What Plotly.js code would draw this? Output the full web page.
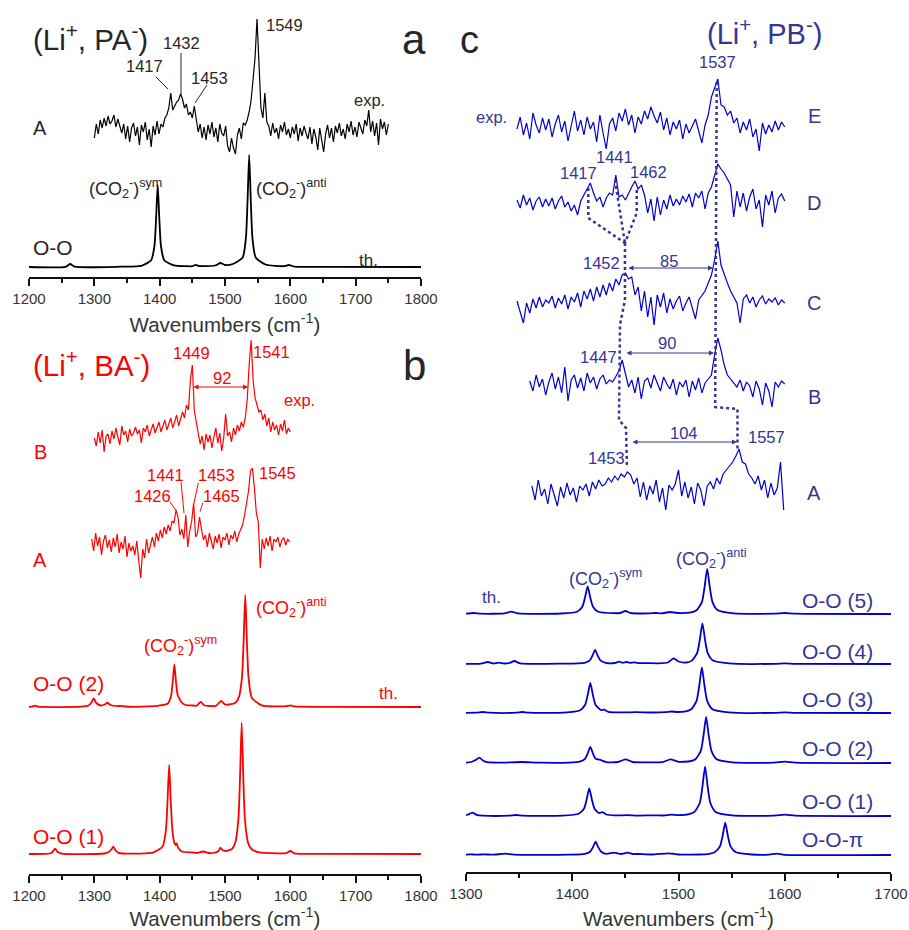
<!DOCTYPE html>
<html><head><meta charset="utf-8">
<script src="https://cdn.plot.ly/plotly-3.0.1.min.js"></script>
<style>html,body{margin:0;padding:0;background:#fff}#plot{width:909px;height:930px}</style>
</head><body><div id="plot"></div>
<script>
// ---------------- DATA (intensities in arbitrary units, baseline = 0) ----------------
// Panel a: (Li+, PA-)  experimental A, sampled from 1300 cm-1 every 3 cm-1
const paExpStart = 1300, paExpStep = 3;
const paExpA = [-8,6,-4,10,2,12,4,14,6,9,15,3,11,5,
 -3,6,-9,4,-12,2,7,-6,3,-15,5,-2,8,-10,1,-17,4,-5,9,-4,
 6,3,12,15, 22,37,20, 24,28,30, 36,31, 22,26,15,18,12, 24, 8,-2,6,-8,
 3,-10,5,-4,8,-7,2,-12,6,-3,-6,4,-16,-22,-8,-18,-24,-5,2,-9,7,5,
 10,18,30,55, 72,111,68,22,12,37,8,
 4,-6,7,-3,2,-9,5,-2,8,-5, 1,-8,3,-4,6,-11,2,-6,4,-3,
 -9,3,-14,1,-7,-20,2,-10,-22,-4, 5,-8,2,-12,4,-3,7,-6,1,-9,
 6,-2,9,-5,3,-7,8,2,-4,10, 4,20,-2,9,-6,7,-15,11,1,8,-5,6];
// Panel a: theoretical O-O
const paThX = [1200,1256,1263,1270,1340,1372,1387,1392,1394.5,1397,1399.5,1402,1407,1422,1440,1450,1455,1460,1485,1493,1500,1512,1527,1532,1534.5,1537,1539.5,1542,1547,1562,1590,1598,1606,1650,1800];
const paThY = [0,0.2,3,0.3,0.3,1.2,6.8,21,48,82,48,21,6.8,1.6,0.8,0.8,2.2,1,1.5,4,2,3,9.5,29,66,112,66,29,9.5,2.5,0.8,2,0.4,0.2,0];

// Panel b: (Li+, BA-)  experimental B (from 1300) and A (from 1296), every 3 cm-1
const pbExpBStart = 1300, pbExpAStart = 1296, pbExpStep = 3;
const pbExpB = [2,-6,8,-3,10,-12,4,6,-4,9,1, 12,3,-5,14,5,9,-2,11,4,7,13,
 6,10,-3,12,8,15,4,9,16,7, 12,18,8,14,20,10,17, 22,12,19,25,14,21, 28,22,35,30,
 60,75,30, 18,8,-4,4,-10,6,-2, 5,-8,3,12,-3,7,-11,2,26,4, 8,-2,12,5,15,9,18,13,22,
 40,75,100, 60,42,35,28,30, 20,26,14,22,8,18,10,15,5,16,9,20,6,12,8];
const pbExpA = [4,-8,10,-3,6,-12,2,8,-5,3,-9, 5,-4,9,-10,1,-6,7,-14,0,-8,-3,
 -12,2,-18,-35,-6,-15,4,-10,-2, 6,-4,10,2,13,5,16,9, 18,12,22,20,33,26, 8,14,4,28,
 -4,12,22,40, 6,10,26,14,3, 8,-4,10,2,-6,7,0,9,-5,6,3, 10,-2,8,4,12,1,9,14,18,
 28,40,52,72,75,55, 30,21,-25,4, -6,5,-3,7,-8,4,1,6,-4,3,5,-2,4,1];
// Panel b: theoretical O-O (2) and O-O (1)
const pbTh2X = [1200,1204,1209,1214,1280,1291,1295,1299,1303,1310,1316,1320,1324,1335,1341,1347,1385,1397,1412.5,1417.5,1420,1422.5,1425,1427.5,1430,1433,1440,1451,1456,1463,1468,1486,1494,1500,1506,1516,1521,1526,1528.5,1531,1533.5,1536,1541,1556,1580,1594,1600,1606,1660,1800];
const pbTh2Y = [0,0.3,1.3,0.3,0.3,1.5,4,8.7,4,1.5,2.5,4.3,2.2,0.8,1.2,0.5,0.6,1.2,3.5,11.3,25,42.7,25,12,8.7,5,2,1.5,1.2,5,1.8,1.2,6,2.5,2.5,4.3,9.3,29.7,66,112,66,29.7,9.3,1.6,0.6,0.8,1.7,0.6,0.2,0];
const pbTh1X = [1200,1232,1236,1240,1244,1250,1315,1322,1326,1329,1332,1337,1370,1389.5,1404.5,1409.5,1412,1414.5,1417,1419.5,1422,1424,1426,1428.5,1434,1451,1456,1467,1475,1485,1490,1493,1496,1500.5,1510.5,1515.5,1520.5,1523,1525.5,1528,1530.5,1535.5,1540.5,1550.5,1580,1594,1600,1606,1660,1800];
const pbTh1Y = [0,0.5,2,5.3,2,0.4,0.5,2,4.5,7.3,4,1.2,0.4,1.3,7.4,23.6,52.5,89,52.5,23.6,12.3,9,10.5,6,2.5,1.5,1,2.5,1,1.5,3,6.3,4,3,5,10.9,34.7,77.3,131,77.3,34.7,10.9,5,1.9,0.6,0.8,3,0.7,0.2,0];

// Panel c: (Li+, PB-)  experimental E, D, C (from 1348), B (from 1360), A (from 1362), every 3 cm-1
const pcExpStep = 3;
const pcExpEStart = 1348, pcExpDStart = 1348, pcExpCStart = 1348, pcExpBStart = 1360, pcExpAStart = 1362;
const pcExpE = [-2,10,-8,4,-12,14,2,-6,9,-3, 8,-10,3,12,-5,6,-14,1,16,-4,
 7,-8,10,-2,5,-15,12,-6,-22,3, 9,-4,14,6,18,2,12,-6,10,3, 16,8,20,11,4,15,-3,9,-8,5,
 -2,7,-12,3,-6,1,8,-4,-16,2, 12,30,40,48,22, 20,12,16,4,9,
 -6,5,-3,8,-10,-2,-24,4,-7,2,-5,6,-3,5,0];
const pcExpD = [3,-5,8,-2,5,-7,2,6,-4,4, -3,5,-6,2,7,-4,1,-8,-2,-12,
 2,8,14,20, 10,2,6,-4, 5,10,8,28, 6,8,3,10, 16,22,14,18,8,
 -10,4,-18,6,-12,3,-6,8,-3, 4,-2,7,1,9,-4,10,5,12,-6,
 10,16,28,39,34, 30,24,18,-14,12, -4,10,-8,6,14,-6,3,-24,8,-2,12,-10,5,9,2];
const pcExpC = [4,-6,-18,2,-8,6,-3,8,-2,5, 2,9,-3,7,1,10,-4,8,3,12,
 -2,14,6,16,4,18,8,20,10,22, 14,26,20,30,32, 26,28,10,18,-6,
 14,-12,8,-20,10,-2,12,-8,6,-4, 4,9,-6,2,8,-3,-14,5,10,14,
 22,30,45,64,40, 30,22,14,8,2, -18,6,10,2,8,-2,5,9,1,6,3,7,0,5,2];
const pcExpB = [4,-6,10,-2,6,-10,3,12,-4,8, -8,18,-16,5,10,-3,7,-6,12,2,
 8,-4,6,10,1,5, 3,9,14,25, 12,-2,5,-8,8, -14,4,7,-3,10,2,-6,8,1,-4,
 6,-10,3,-2,5,-12,4,-5,7,-8, 2,6,10,30,47, 35,20,10,6,2,
 -2,5,-6,3,-1,-12,4,-4,-20,2,-6,-22,3,-2,4,1];
const pcExpA = [6,-8,12,-4,3,-12,8,-2,-14,5, -6,9,-3,4,-10,6,2,8,-4,10,
 3,12,6,8,14,10,16,12,18,15, 20,17,8,14,-5, 10,-8,6,-2,12,-10,4,-18,7,2,
 8,22,-4,10,-6,5,-12,9,2,-14, 6,10,3,14,8, 18,22,26,30,36, 43,30,28,18,14,
 8,16,2,12,-6,9,-3,4,30,-18];
// Panel c: theoretical spectra
const pcTh5X = [1300,1307,1314,1336,1342.5,1349,1389.5,1404.5,1409.5,1412,1414.5,1417,1419.5,1424.5,1439.5,1445,1450,1455,1472,1478,1484,1492,1499,1512,1517,1522,1524.5,1527,1529.5,1532,1537,1552,1590,1600,1610,1700];
const pcTh5Y = [0.3,1,0.3,0.6,2.3,0.6,0.5,2.3,7.3,16.3,27.7,16.3,7.3,2.3,0.8,1,3,1,0.6,1,0.6,2,1,1.7,3.7,11.9,26.6,45,26.6,11.9,3.7,0.7,0.3,1,0.3,0];
const pcTh4X = [1300,1314,1320.5,1326,1330.5,1336,1341,1345.5,1351,1390,1411.5,1416.5,1419,1421.5,1424,1426.5,1431.5,1440,1444,1447.5,1451,1454.5,1458,1464,1470,1480,1490,1495.5,1500,1507.5,1512.5,1517.5,1520,1522.5,1525,1527.5,1532.5,1547.5,1590,1600,1610,1700];
const pcTh4Y = [0.2,0.3,2,0.5,1.3,0.5,1,3,0.6,0.4,1.2,3.7,8.3,14,8.3,3.7,1.2,1,2.3,1.2,2,1.1,1.7,0.8,0.9,0.7,1.5,5.7,2.5,1.5,3.4,10.8,24,40.7,24,10.8,3.4,0.6,0.2,0.7,0.2,0];
const pcTh3X = [1300,1310,1316,1322,1347,1353,1359,1392,1407,1412,1414.5,1417,1419.5,1422,1427,1430,1434,1445,1460,1475,1488,1493.5,1499,1507,1512,1517,1519.5,1522,1524.5,1527,1532,1547,1590,1600,1610,1700];
const pcTh3Y = [0.2,0.3,1,0.3,0.3,1,0.3,0.4,2.5,8,17.7,30,17.7,8,3,3.3,1.2,0.6,0.8,0.5,0.9,1.5,1,1.7,3.8,12.1,27,45.7,27,12.1,3.8,0.7,0.2,0.7,0.2,0];
const pcTh2X = [1300,1305,1309,1312.5,1316,1320,1335,1352,1370,1397,1407,1412,1414.5,1417,1419.5,1422,1427,1432,1443,1450,1457,1470,1485,1492.5,1500,1511,1516,1521,1523.5,1526,1528.5,1531,1536,1551,1590,1600,1610,1700];
const pcTh2Y = [0.3,1,3,5.3,2.5,0.8,0.4,1,0.3,0.4,1.3,4.2,9.4,16,9.4,4.2,2.9,0.9,1,3.7,1,0.7,0.9,3.7,1.2,1.75,3.8,12.2,27.2,46,27.2,12.2,3.8,0.65,0.3,1.3,0.3,0];
const pcTh1X = [1300,1302,1306,1310,1316,1340,1347,1354,1391,1406,1411,1413.5,1416,1418.5,1421,1425,1428.5,1432,1440,1451,1462,1476,1486,1493,1500,1510,1515,1520,1522.5,1525,1527.5,1530,1535,1550,1590,1600,1610,1700];
const pcTh1Y = [0.5,1.5,3.3,1.2,0.4,0.3,1,0.3,0.4,2.3,7.3,16.3,27.7,16.3,7.3,3,3.8,1.5,0.6,0.8,0.4,0.7,0.5,1.3,0.9,1.9,4.1,13,29,49.3,29,13,4.1,0.7,0.3,1.3,0.3,0];
const pcThPiX = [1300,1304,1310,1317,1325,1337,1345,1397,1412,1417,1419.5,1422,1424.5,1427,1432,1439.5,1446,1452,1457,1462,1475,1491,1500,1519,1529,1534,1539,1541.5,1544,1546.5,1549,1554,1569,1585,1592.5,1600,1700];
const pcThPiY = [0.3,0.7,0.3,0.7,0.3,1.3,0.3,0.3,1.1,3.5,7.8,13.3,7.8,3.5,1.2,2.3,1,2.3,1,1,0.5,1.7,0.5,0.5,1.2,2.7,8.6,19,32.3,19,8.6,2.7,0.5,0.3,1.3,0.2,0];

// Tick values / labels
const tickValsAB = [1200,1300,1400,1500,1600,1700,1800];
const tickValsC = [1300,1400,1500,1600,1700];
const xTitle = 'Wavenumbers (cm<sup>-1</sup>)';

// ---------------- LAYOUT GEOMETRY (pixels) ----------------
const W = 909, H = 930;
const P = x => x / W, Q = y => 1 - y / H;
const FONT = 'Liberation Sans, Arial, sans-serif';
const BLACK = '#000000', RED = '#ff0000', BLUE = '#0000cc', NAVY = '#353594', GREY = '#262626';
const NUM = 16.5;   // peak-label font size
// vertical offsets (pixel rows of each trace baseline)
const base = {aExpA:130, aTh:267, bExpB:440, bExpA:543, bTh2:707, bTh1:854,
  cE:127, cD:203, cC:305, cB:385, cA:492, c5:614, c4:664, c3:713, c2:763, c1:816, cPi:855};

function gridTrace(start, step, vals, b, xa, ya, color, w) {
  return {type:'scatter', mode:'lines', xaxis:xa, yaxis:ya,
    x: vals.map((_, i) => start + i * step), y: vals.map(v => v - b),
    line:{color, width:w}, hoverinfo:'skip', showlegend:false};
}
function xyTrace(xs, ys, b, xa, ya, color, w) {
  return {type:'scatter', mode:'lines', xaxis:xa, yaxis:ya, x: xs, y: ys.map(v => v - b),
    line:{color, width:w, shape:'spline', smoothing:0.6}, hoverinfo:'skip', showlegend:false};
}

const traces = [
  gridTrace(paExpStart, paExpStep, paExpA, base.aExpA, 'x', 'y', BLACK, 1.2),
  xyTrace(paThX, paThY, base.aTh, 'x', 'y', BLACK, 1.8),
  gridTrace(pbExpBStart, pbExpStep, pbExpB, base.bExpB, 'x2', 'y2', RED, 1.2),
  gridTrace(pbExpAStart, pbExpStep, pbExpA, base.bExpA, 'x2', 'y2', RED, 1.2),
  xyTrace(pbTh2X, pbTh2Y, base.bTh2, 'x2', 'y2', RED, 1.8),
  xyTrace(pbTh1X, pbTh1Y, base.bTh1, 'x2', 'y2', RED, 1.8),
  gridTrace(pcExpEStart, pcExpStep, pcExpE, base.cE, 'x3', 'y3', BLUE, 1.2),
  gridTrace(pcExpDStart, pcExpStep, pcExpD, base.cD, 'x3', 'y3', BLUE, 1.2),
  gridTrace(pcExpCStart, pcExpStep, pcExpC, base.cC, 'x3', 'y3', BLUE, 1.2),
  gridTrace(pcExpBStart, pcExpStep, pcExpB, base.cB, 'x3', 'y3', BLUE, 1.2),
  gridTrace(pcExpAStart, pcExpStep, pcExpA, base.cA, 'x3', 'y3', BLUE, 1.2),
  xyTrace(pcTh5X, pcTh5Y, base.c5, 'x3', 'y3', BLUE, 1.8),
  xyTrace(pcTh4X, pcTh4Y, base.c4, 'x3', 'y3', BLUE, 1.8),
  xyTrace(pcTh3X, pcTh3Y, base.c3, 'x3', 'y3', BLUE, 1.8),
  xyTrace(pcTh2X, pcTh2Y, base.c2, 'x3', 'y3', BLUE, 1.8),
  xyTrace(pcTh1X, pcTh1Y, base.c1, 'x3', 'y3', BLUE, 1.8),
  xyTrace(pcThPiX, pcThPiY, base.cPi, 'x3', 'y3', BLUE, 1.8)
];

function xAxis(domainPx, range, anchor, tv, standoff) {
  return {domain:[P(domainPx[0]), P(domainPx[1])], range, anchor, autorange:false,
    showline:true, linecolor:'#111', linewidth:1.5, mirror:false, showgrid:false, zeroline:false,
    ticks:'outside', ticklen:7, tickwidth:1.5, tickcolor:'#111', tickmode:'array', tickvals:tv,
    minor:{ticks:'outside', ticklen:4, tickwidth:1.5, tickcolor:'#111', dtick:50, tick0:1200, showgrid:false},
    tickfont:{family:FONT, size:15, color:'#333'}, automargin:false, fixedrange:true,
    title:{text:xTitle, font:{family:FONT, size:20.5, color:'#333'}, standoff}};
}
function yAxis(topPx, botPx) {
  return {domain:[Q(botPx), Q(topPx)], range:[-botPx, -topPx], autorange:false, visible:false, fixedrange:true};
}

const ann = [];
function T(text, x, y, size, color, xanchor) {
  ann.push({text, x:P(x), y:Q(y), xref:'paper', yref:'paper', showarrow:false,
    xanchor: xanchor || 'center', yanchor:'middle', font:{family:FONT, size, color}});
}
function ARR(x1, x2, y, color) {
  ann.push({text:'', x:P(x2), y:Q(y), xref:'paper', yref:'paper', ax:x1 - x2, ay:0,
    showarrow:true, arrowhead:2, arrowside:'end+start', arrowsize:1, arrowwidth:1, arrowcolor:color});
}
const CO2s = '(CO<sub>2</sub><sup>-</sup>)<sup>sym</sup>';
const CO2a = '(CO<sub>2</sub><sup>-</sup>)<sup>anti</sup>';

// Panel a labels
T('(Li<sup>+</sup>, PA<sup>-</sup>)', 31, 37, 29.5, GREY, 'left');
T('a', 414, 40, 42, GREY);
T('1549', 264, 25, NUM, GREY, 'left');
T('1432', 181, 43, NUM, GREY);
T('1417', 144, 66, NUM, GREY);
T('1453', 209, 78, NUM, GREY);
T('exp.', 369, 100, NUM, GREY);
T('A', 31, 128, 20, GREY, 'left');
T(CO2s, 87, 188, 18, GREY, 'left');
T(CO2a, 254, 188, 18, GREY, 'left');
T('O-O', 31, 248, 21, GREY, 'left');
T('th.', 368, 260, 17, GREY);
// Panel b labels
T('(Li<sup>+</sup>, BA<sup>-</sup>)', 31, 363, 29.5, RED, 'left');
T('b', 414, 365, 42, GREY);
T('1449', 191, 353, NUM, RED);
T('1541', 271, 352, NUM, RED);
T('92', 222, 378, NUM, RED);
ARR(192, 248, 387, RED);
T('exp.', 299, 400, NUM, RED);
T('B', 32, 452, 20, RED, 'left');
T('1441', 165, 475, NUM, RED);
T('1453', 216, 475, NUM, RED);
T('1426', 152, 496, NUM, RED);
T('1465', 221, 496, NUM, RED);
T('1545', 277, 473, NUM, RED);
T('A', 31, 560, 20, RED, 'left');
T(CO2s, 142, 645, 18, RED, 'left');
T(CO2a, 254, 607, 18, RED, 'left');
T('O-O (2)', 31, 683, 21, RED, 'left');
T('th.', 388, 693, 17, RED);
T('O-O (1)', 31, 836, 21, RED, 'left');
// Panel c labels
T('c', 470, 40, 38, GREY);
T('(Li<sup>+</sup>, PB<sup>-</sup>)', 764, 32, 29, NAVY);
T('1537', 717, 62, NUM, NAVY);
T('exp.', 491, 117, NUM, NAVY);
T('E', 814, 116, 20, NAVY);
T('D', 814, 203, 20, NAVY);
T('C', 814, 303, 20, NAVY);
T('B', 814, 397, 20, NAVY);
T('A', 814, 493, 20, NAVY);
T('1417', 578, 173, NUM, NAVY);
T('1441', 614, 157, NUM, NAVY);
T('1462', 648, 172, NUM, NAVY);
T('1452', 601, 263, NUM, NAVY);
T('85', 669, 261, NUM, NAVY);
ARR(627, 713, 268, NAVY);
T('1447', 598, 357, NUM, NAVY);
T('90', 667, 343, NUM, NAVY);
ARR(625, 714, 353, NAVY);
T('1453', 606, 458, NUM, NAVY);
T('104', 684, 433, NUM, NAVY);
ARR(631, 737, 442, NAVY);
T('1557', 766, 437, NUM, NAVY);
T(CO2s, 567, 578, 18, NAVY, 'left');
T(CO2a, 674, 558, 18, NAVY, 'left');
T('th.', 491, 597, 17, NAVY);
T('O-O (5)', 800, 600, 21, NAVY, 'left');
T('O-O (4)', 800, 651, 21, NAVY, 'left');
T('O-O (3)', 800, 699, 21, NAVY, 'left');
T('O-O (2)', 800, 748, 21, NAVY, 'left');
T('O-O (1)', 800, 801, 21, NAVY, 'left');
T('O-O-\u03c0', 800, 839, 21, NAVY, 'left');

// leader lines and dotted guide lines
const shapes = [];
function L(x1, y1, x2, y2, color) {
  shapes.push({type:'line', xref:'paper', yref:'paper', x0:P(x1), y0:Q(y1), x1:P(x2), y1:Q(y2), line:{color, width:1}});
}
L(156, 77, 168, 89, GREY); L(181, 53, 181, 95, GREY); L(207, 85, 195, 103, GREY);
L(170, 502, 175.7, 510, RED); L(181, 482, 184, 513, RED); L(198.3, 483, 194, 503, RED); L(202.7, 503, 200, 511.7, RED);
function DP(pts) {
  shapes.push({type:'path', xref:'x3', yref:'y3',
    path: 'M' + pts.map(p => p[0] + ',' + (-p[1])).join(' L'), line:{color:NAVY, width:2.5, dash:'dot'}});
}
DP([[1536,82],[1534.5,407],[1555.5,409],[1555.5,449]]);
DP([[1415.1,188],[1415.1,218],[1449.6,243]]);
DP([[1440.2,180],[1449.6,243]]);
DP([[1460.7,190],[1460.7,213],[1449.6,243]]);
DP([[1449.6,243],[1449.6,300],[1444.9,325],[1444,420],[1450.6,428],[1451.5,468]]);

const layout = {
  width:W, height:H, margin:{l:0, r:0, t:0, b:0}, paper_bgcolor:'#fff', plot_bgcolor:'rgba(0,0,0,0)',
  showlegend:false, font:{family:FONT},
  xaxis: xAxis([29, 421], [1200, 1800], 'y', tickValsAB, 12),
  yaxis: yAxis(0, 277),
  xaxis2: xAxis([29, 421], [1200, 1800], 'y2', tickValsAB, 14),
  yaxis2: yAxis(300, 874),
  xaxis3: xAxis([466, 891], [1300, 1700], 'y3', tickValsC, 14),
  yaxis3: yAxis(0, 872),
  annotations: ann, shapes
};
Plotly.newPlot('plot', traces, layout, {displayModeBar:false});
</script>
</body></html>
